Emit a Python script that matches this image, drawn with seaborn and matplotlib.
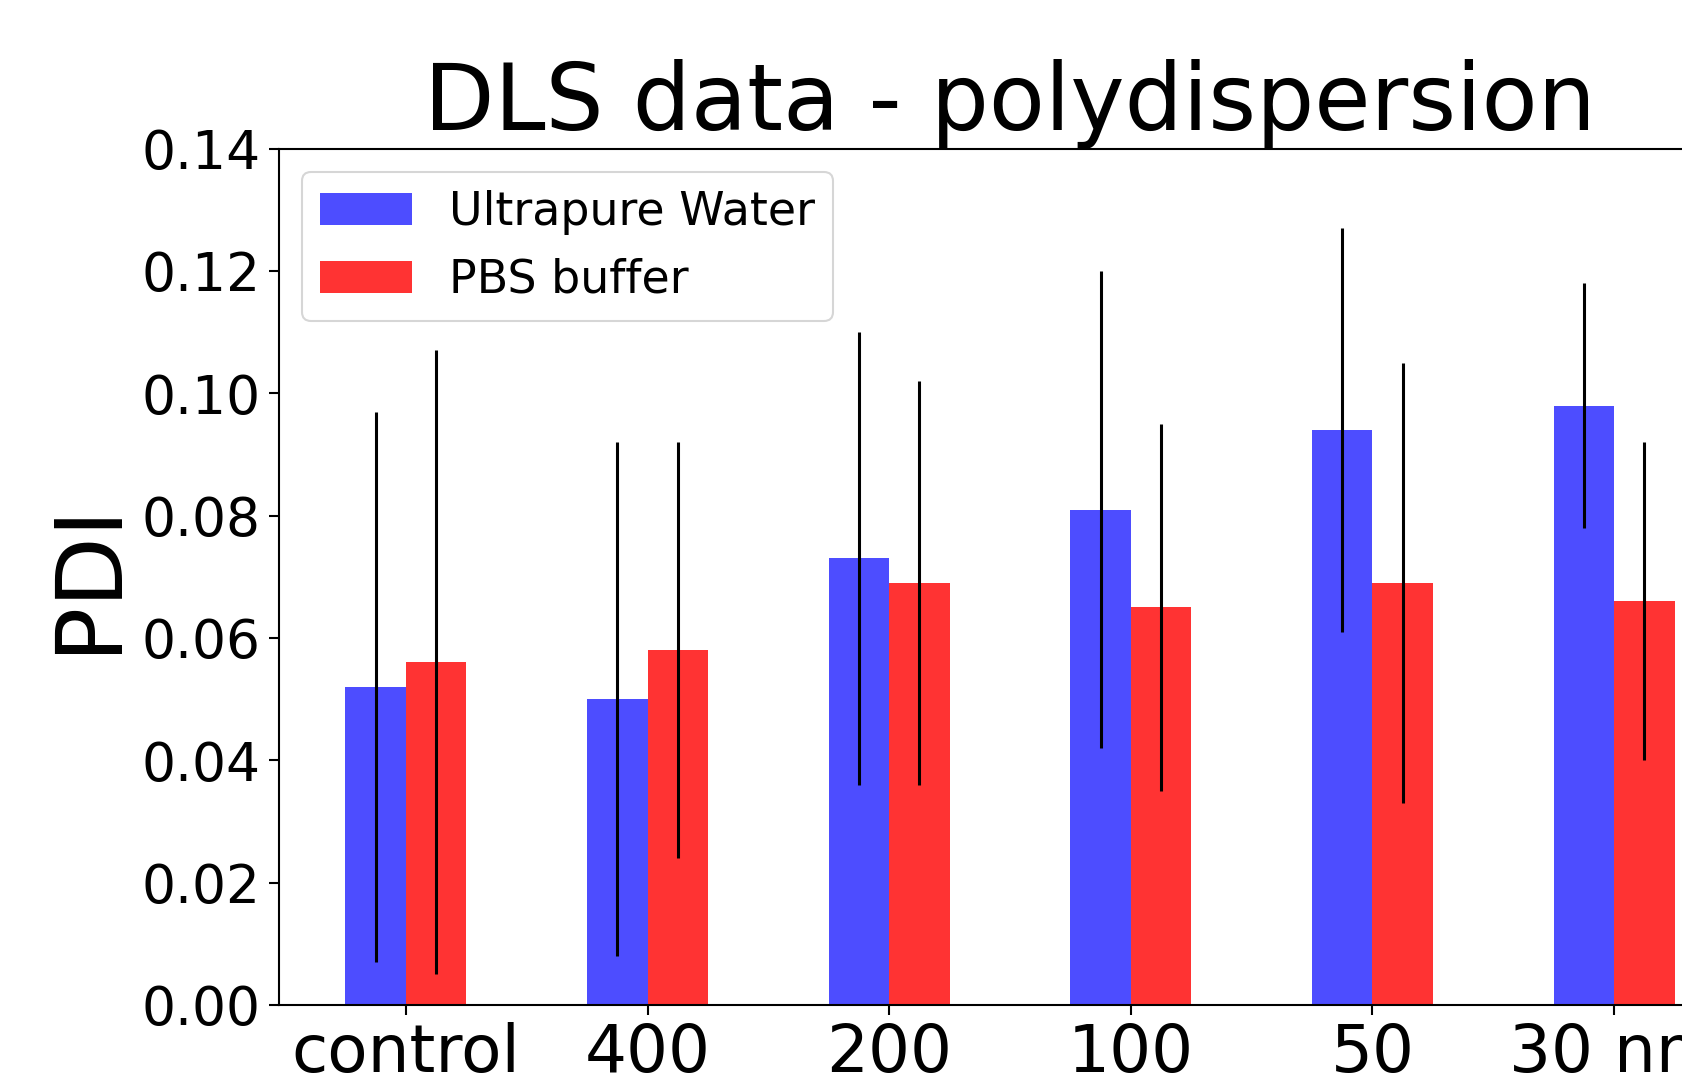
import matplotlib
matplotlib.use("Agg")
import matplotlib.pyplot as plt
import seaborn as sns
import pandas as pd
import numpy as np

categories = ["control", "400", "200", "100", "50", "30 nm"]
series_names = ["Ultrapure Water", "PBS buffer"]
water_pdi = [0.052, 0.050, 0.073, 0.081, 0.094, 0.098]
water_err = [0.045, 0.042, 0.037, 0.039, 0.033, 0.020]
pbs_pdi = [0.056, 0.058, 0.069, 0.065, 0.069, 0.066]
pbs_err = [0.051, 0.034, 0.033, 0.030, 0.036, 0.026]
y_ticks = [0.00, 0.02, 0.04, 0.06, 0.08, 0.10, 0.12, 0.14]

colors = {"Ultrapure Water": "#4d4dff", "PBS buffer": "#ff3333"}

df = pd.DataFrame({
    "size": categories * 2,
    "medium": [series_names[0]] * len(categories) + [series_names[1]] * len(categories),
    "pdi": water_pdi + pbs_pdi,
    "err": water_err + pbs_err,
})

sns.set_style("ticks")
plt.rcParams["font.family"] = ["DejaVu Sans"]
plt.rcParams["text.color"] = "black"
plt.rcParams["axes.labelcolor"] = "black"
plt.rcParams["xtick.color"] = "black"
plt.rcParams["ytick.color"] = "black"

fig = plt.figure(figsize=(16.82, 10.75), dpi=100)
ax = fig.add_axes([279 / 1682, 70 / 1075, 1462 / 1682, 856.4 / 1075])

sns.barplot(data=df, x="size", y="pdi", hue="medium", order=categories,
            hue_order=series_names, palette=colors, width=0.5, errorbar=None,
            saturation=1, ax=ax, linewidth=0)

# error bars at the bar centres produced by seaborn
for i, name in enumerate(series_names):
    cont = ax.containers[i]
    xs = [p.get_x() + p.get_width() / 2 for p in cont.patches]
    sub = df[df["medium"] == name]
    ax.errorbar(xs, sub["pdi"].values, yerr=sub["err"].values, fmt="none",
                ecolor="black", elinewidth=2.2, capsize=0, zorder=3)

ax.set_xlim(-0.525, len(categories) - 0.475)
ax.set_ylim(0, 0.14)
ax.set_yticks(y_ticks)
ax.set_yticklabels([f"{t:.2f}" for t in y_ticks])
ax.tick_params(axis="y", labelsize=38.5, length=7, width=1.5, pad=6,
               colors="black", labelcolor="black")
ax.tick_params(axis="x", labelsize=47.5, length=7, width=1.5, pad=5,
               colors="black", labelcolor="black")
for s in ax.spines.values():
    s.set_linewidth(1.5)
    s.set_color("black")

ax.set_xlabel("")
ax.set_ylabel("PDI", fontsize=66, labelpad=6, color="black")
ax.set_title("DLS data - polydispersion", fontsize=66, pad=12, color="black")

leg = ax.legend(loc="upper left", fontsize=33, frameon=True, framealpha=0.8,
                fancybox=True, handlelength=2.0, borderaxespad=0.5)
leg.get_frame().set_edgecolor("#cccccc")
leg.get_frame().set_linewidth(1.5)
for t in leg.get_texts():
    t.set_color("black")

fig.savefig("out.png", dpi=100)
